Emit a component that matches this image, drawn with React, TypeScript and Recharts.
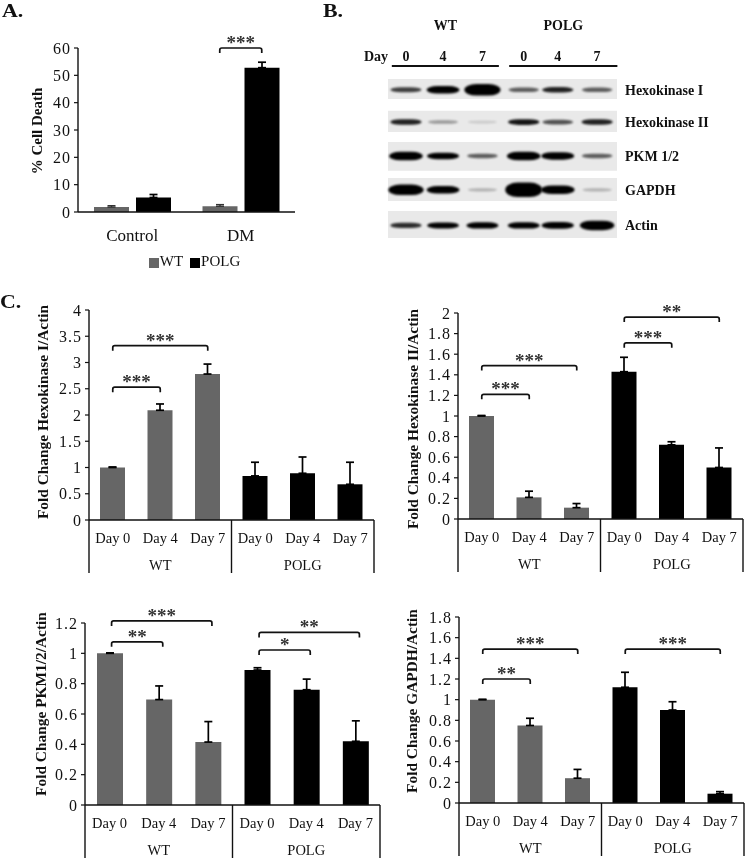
import { BarChart, Bar, Cell, XAxis, YAxis, ErrorBar, ReferenceLine, ReferenceArea, Legend, ScatterChart, Scatter } from 'recharts'

const SERIF = '"Liberation Serif", serif'
const GREY = '#666666'
const INK = '#111111'

// Panel A
const deathCategories = ['Control', 'DM']
const deathWt = [1.8, 2.1]
const deathWtErr = [0.5, 0.6]
const deathPolg = [5.3, 52.8]
const deathPolgErr = [1.1, 2.0]
const deathTicks = [0, 10, 20, 30, 40, 50, 60]

// Panel B, relative band density per lane (WT 0/4/7, POLG 0/4/7)
const blotNames = ['Hexokinase I', 'Hexokinase II', 'PKM 1/2', 'GAPDH', 'Actin']
const blotRows = [0, 0.95, 1.95, 2.95, 4]
const blotLanes = [0, 0.97, 2, 3.08, 3.97, 5]
const blotDays = ['0', '4', '7', '0', '4', '7']
const hk1Bands = [0.25, 0.5, 0.9, 0.2, 0.3, 0.2]
const hk2Bands = [0.3, 0.1, 0.02, 0.32, 0.22, 0.3]
const pkmBands = [0.6, 0.4, 0.2, 0.6, 0.5, 0.2]
const gapdhBands = [0.8, 0.5, 0.06, 1.2, 0.6, 0.06]
const actinBands = [0.28, 0.35, 0.38, 0.38, 0.42, 0.7]
const blotBands = [hk1Bands, hk2Bands, pkmBands, gapdhBands, actinBands]
const stripTops = [-0.32, 0.62, 1.54, 2.6, 3.57]
const stripBottoms = [0.27, 1.24, 2.39, 3.28, 4.37]

// Panel C
const dayLabels = ['Day 0', 'Day 4', 'Day 7', 'Day 0', 'Day 4', 'Day 7']
const hk1Values = [1, 2.09, 2.78, 0.84, 0.89, 0.68]
const hk1Errors = [0.01, 0.12, 0.19, 0.26, 0.31, 0.42]
const hk1Ticks = [0, 0.5, 1, 1.5, 2, 2.5, 3, 3.5, 4]
const hk1Brackets = [
  { from: 0, to: 1, value: 2.53, stars: '***' },
  { from: 0, to: 2, value: 3.32, stars: '***' },
]
const hk2Values = [1, 0.21, 0.11, 1.43, 0.72, 0.5]
const hk2Errors = [0.005, 0.06, 0.04, 0.14, 0.03, 0.19]
const hk2Ticks = [0, 0.2, 0.4, 0.6, 0.8, 1, 1.2, 1.4, 1.6, 1.8, 2]
const hk2Brackets = [
  { from: 0, to: 1, value: 1.21, stars: '***' },
  { from: 0, to: 2, value: 1.49, stars: '***' },
  { from: 3, to: 4, value: 1.71, stars: '***' },
  { from: 3, to: 5, value: 1.96, stars: '**' },
]
const pkmValues = [1, 0.695, 0.415, 0.89, 0.76, 0.42]
const pkmErrors = [0.003, 0.09, 0.135, 0.015, 0.07, 0.135]
const pkmTicks = [0, 0.2, 0.4, 0.6, 0.8, 1, 1.2]
const pkmBrackets = [
  { from: 0, to: 1, value: 1.076, stars: '**' },
  { from: 0, to: 2, value: 1.214, stars: '***' },
  { from: 3, to: 4, value: 1.022, stars: '*' },
  { from: 3, to: 5, value: 1.138, stars: '**' },
]
const gapdhValues = [1, 0.75, 0.24, 1.12, 0.9, 0.09]
const gapdhErrors = [0.003, 0.07, 0.085, 0.145, 0.08, 0.02]
const gapdhTicks = [0, 0.2, 0.4, 0.6, 0.8, 1, 1.2, 1.4, 1.6, 1.8]
const gapdhBrackets = [
  { from: 0, to: 1, value: 1.2, stars: '**' },
  { from: 0, to: 2, value: 1.49, stars: '***' },
  { from: 3, to: 5, value: 1.49, stars: '***' },
]

function bracketShape(stars: string, shiftA = 0, shiftB = 0) {
  return (p: any) => {
    const a = p.x1 + shiftA
    const b = p.x2 + shiftB
    const y = p.y1
    return (
      <g>
        <path
          d={`M${a} ${y + 5}L${a} ${y + 2}Q${a} ${y} ${a + 2} ${y}L${b - 2} ${y}Q${b} ${y} ${b} ${y + 2}L${b} ${y + 5}`}
          fill="none"
          stroke={INK}
          strokeWidth={1.7}
        />
        <text x={(a + b) / 2} y={y + 1} textAnchor="middle" fontSize={19} fontWeight="bold" fill="#333" fontFamily={SERIF}>
          {stars}
        </text>
      </g>
    )
  }
}

function FoldChart(props: any) {
  const { x0, x1, y0, y1, labelX, labelY, title, values, errors, ticks, brackets, barSize, shift } = props
  const xAxisH = 60
  const yAxisW = 2 * (x0 - labelX)
  const boxLeft = x0 - yAxisW
  const boxTop = y1 - 25
  const boxW = x1 - boxLeft + 1
  const boxH = y0 + xAxisH + 2 - boxTop
  const step = (x1 - x0) / 6
  const data = values.map((v: number, i: number) => ({ id: `g${i}`, value: v, err: [0, errors[i]] }))

  const renderTick = (t: any) => {
    const i = t.index
    return (
      <g>
        <text x={t.x} y={t.y + 23} textAnchor="middle" fontSize={14.5} fill={INK}>{dayLabels[i]}</text>
        {(i === 1 || i === 4) && (
          <text x={t.x} y={t.y + 50} textAnchor="middle" fontSize={14.5} fill={INK}>{i === 1 ? 'WT' : 'POLG'}</text>
        )}
        {(i === 0 || i === 3) && <line x1={t.x - step / 2} x2={t.x - step / 2} y1={t.y} y2={t.y + 53} stroke={INK} strokeWidth={1.4} />}
        {i === 5 && <line x1={t.x + step / 2} x2={t.x + step / 2} y1={t.y} y2={t.y + 53} stroke={INK} strokeWidth={1.4} />}
      </g>
    )
  }

  return (
    <div style={{ position: 'absolute', left: boxLeft, top: boxTop }}>
      <BarChart width={boxW} height={boxH} data={data} barSize={barSize} margin={{ top: 25, right: 1, left: 0, bottom: 2 }}>
        <XAxis dataKey="id" interval={0} height={xAxisH} tick={renderTick} tickLine={false} tickSize={0} tickMargin={0} axisLine={{ stroke: INK, strokeWidth: 1.4 }} />
        <YAxis
          width={yAxisW}
          domain={[ticks[0], ticks[ticks.length - 1]]}
          ticks={ticks}
          interval={0}
          tickSize={4}
          tickMargin={3}
          axisLine={{ stroke: INK, strokeWidth: 1.4 }}
          tickLine={{ stroke: INK, strokeWidth: 1.2 }}
          tick={{ fontSize: 16, fill: INK, letterSpacing: 1 }}
          label={{
            content: () => (
              <text
                transform={`translate(${labelX - boxLeft} ${labelY - boxTop}) rotate(-90)`}
                textAnchor="middle"
                dominantBaseline="middle"
                fontSize={15.4}
                fontWeight="bold"
                fill={INK}
              >
                {title}
              </text>
            ),
          }}
        />
        <Bar dataKey="value" isAnimationActive={false}>
          {data.map((d: any, i: number) => (
            <Cell key={d.id} fill={i < 3 ? GREY : '#000000'} />
          ))}
          <ErrorBar dataKey="err" direction="y" width={4} stroke="#000" strokeWidth={1.7} isAnimationActive={false} />
        </Bar>
        {brackets.map((b: any, i: number) => (
          <ReferenceLine
            key={i}
            ifOverflow="visible"
            segment={[{ x: `g${b.from}`, y: b.value }, { x: `g${b.to}`, y: b.value }]}
            shape={bracketShape(b.stars, shift ? shift[0] : 0, shift ? shift[1] : 0)}
          />
        ))}
      </BarChart>
    </div>
  )
}

function DeathChart() {
  const data = deathCategories.map((c, i) => ({
    category: c,
    WT: deathWt[i],
    wtErr: [0, deathWtErr[i]],
    POLG: deathPolg[i],
    polgErr: [0, deathPolgErr[i]],
  }))
  return (
    <div style={{ position: 'absolute', left: 0, top: 0 }}>
      <BarChart width={330} height={285} data={data} barSize={35} barGap={7} margin={{ top: 48, right: 35, left: 0, bottom: 16 }}>
        <XAxis
          dataKey="category"
          height={40}
          tickLine={false}
          tickSize={0}
          tickMargin={17}
          axisLine={{ stroke: INK, strokeWidth: 1.4 }}
          tick={{ fontSize: 17, fill: INK }}
        />
        <YAxis
          width={78}
          domain={[0, 60]}
          ticks={deathTicks}
          interval={0}
          tickSize={4}
          tickMargin={3}
          axisLine={{ stroke: INK, strokeWidth: 1.4 }}
          tickLine={{ stroke: INK, strokeWidth: 1.2 }}
          tick={{ fontSize: 16, fill: INK, letterSpacing: 1 }}
          label={{
            content: () => (
              <text transform="translate(39 131) rotate(-90)" textAnchor="middle" dominantBaseline="middle" fontSize={15} fontWeight="bold" fill={INK}>
                % Cell Death
              </text>
            ),
          }}
        />
        <Legend
          iconType="square"
          iconSize={10}
          itemSorter={null}
          wrapperStyle={{ left: 133, bottom: 'auto', top: 253, width: 130, fontSize: 15, whiteSpace: 'nowrap' }}
          formatter={(v: any) => <span style={{ color: INK, marginLeft: -3, marginRight: -3, whiteSpace: 'nowrap' }}>{v}</span>}
        />
        <Bar dataKey="WT" fill={GREY} isAnimationActive={false}>
          <ErrorBar dataKey="wtErr" direction="y" width={4} stroke="#333" strokeWidth={1.4} isAnimationActive={false} />
        </Bar>
        <Bar dataKey="POLG" fill="#000000" isAnimationActive={false}>
          <ErrorBar dataKey="polgErr" direction="y" width={4} stroke="#000" strokeWidth={1.7} isAnimationActive={false} />
        </Bar>
        <ReferenceLine
          ifOverflow="visible"
          segment={[{ x: 'DM', y: 60 }, { x: 'DM', y: 60 }]}
          shape={bracketShape('***', -21, 21)}
        />
      </BarChart>
    </div>
  )
}

function BandShape(p: any) {
  const d = p.payload.density
  const w = 29 + 8 * Math.min(d, 1)
  const h = 2.5 + 10 * d
  const o = Math.min(1, 0.08 + 2.6 * d)
  return (
    <rect
      x={p.cx - w / 2}
      y={p.cy - h / 2}
      width={w}
      height={h}
      rx={w / 3}
      ry={h / 2}
      fill="#000"
      opacity={o}
      style={{ filter: 'blur(1px)' }}
    />
  )
}

function BlotPanel() {
  const data = blotBands.flatMap((bands, r) =>
    bands.map((density, l) => ({ lane: blotLanes[l], row: blotRows[r], density })),
  )
  const renderDay = (t: any) => (
    <g>
      <text x={t.x} y={t.y} textAnchor="middle" fontSize={14} fontWeight="bold" fill={INK}>{blotDays[t.index]}</text>
      {t.index === 0 && <text x={t.x - 30} y={t.y} textAnchor="middle" fontSize={14} fontWeight="bold" fill={INK}>Day</text>}
    </g>
  )
  return (
    <div style={{ position: 'absolute', left: 320, top: 0 }}>
      <ScatterChart width={425} height={250} margin={{ top: 19, right: 0, left: 68, bottom: 12 }}>
        <XAxis
          xAxisId="lane"
          type="number"
          dataKey="lane"
          orientation="top"
          height={60}
          domain={[-0.47, 5.52]}
          ticks={blotLanes}
          interval={0}
          axisLine={false}
          tickLine={false}
          tickSize={0}
          tick={(t: any) => renderDay({ ...t, y: 61 })}
        />
        <YAxis
          yAxisId="row"
          type="number"
          dataKey="row"
          orientation="right"
          width={128}
          reversed
          domain={[-0.32, 4.37]}
          ticks={blotRows}
          interval={0}
          axisLine={false}
          tickLine={false}
          tickSize={0}
          tickMargin={8}
          tickFormatter={(v: number) => blotNames[blotRows.indexOf(v)]}
          tick={{ fontSize: 14, fontWeight: 'bold', fill: INK, textAnchor: 'start' }}
        />
        {stripTops.map((top, i) => (
          <ReferenceArea key={i} xAxisId="lane" yAxisId="row" y1={top} y2={stripBottoms[i]} fill="#e9e9e9" fillOpacity={1} stroke="none" />
        ))}
        <ReferenceLine
          xAxisId="lane"
          yAxisId="row"
          ifOverflow="visible"
          segment={[{ x: -0.37, y: -0.7 }, { x: 2.43, y: -0.7 }]}
          stroke={INK}
          strokeWidth={2}
          label={{ value: 'WT', position: 'top', offset: 36, fontSize: 14, fontWeight: 'bold', fill: INK }}
        />
        <ReferenceLine
          xAxisId="lane"
          yAxisId="row"
          ifOverflow="visible"
          segment={[{ x: 2.7, y: -0.7 }, { x: 5.53, y: -0.7 }]}
          stroke={INK}
          strokeWidth={2}
          label={{ value: 'POLG', position: 'top', offset: 36, fontSize: 14, fontWeight: 'bold', fill: INK }}
        />
        <Scatter xAxisId="lane" yAxisId="row" data={data} shape={BandShape} isAnimationActive={false} />
      </ScatterChart>
    </div>
  )
}

function PanelLetter({ x, y, text }: { x: number; y: number; text: string }) {
  return (
    <div style={{ position: 'absolute', left: x, top: y, fontSize: 19, fontWeight: 'bold', color: INK, transform: 'scaleX(1.15)', transformOrigin: 'left top' }}>
      {text}
    </div>
  )
}

export default function App() {
  return (
    <div style={{ position: 'absolute', left: 0, top: 0, width: 745, height: 859, background: '#fff', overflow: 'hidden', fontFamily: SERIF, filter: 'blur(0.35px)' }}>
      <PanelLetter x={2} y={0} text="A." />
      <PanelLetter x={323} y={0} text="B." />
      <PanelLetter x={0} y={291} text="C." />
      <DeathChart />
      <BlotPanel />
      <FoldChart x0={89} x1={374} y0={520} y1={310} labelX={44} labelY={412} title="Fold Change Hexokinase I/Actin"
        values={hk1Values} errors={hk1Errors} ticks={hk1Ticks} brackets={hk1Brackets} barSize={25} />
      <FoldChart x0={458} x1={743} y0={519} y1={313} labelX={414} labelY={419} title="Fold Change Hexokinase II/Actin"
        values={hk2Values} errors={hk2Errors} ticks={hk2Ticks} brackets={hk2Brackets} barSize={25} />
      <FoldChart x0={85} x1={380} y0={805} y1={623} labelX={42} labelY={704} title="Fold Change PKM1/2/Actin"
        values={pkmValues} errors={pkmErrors} ticks={pkmTicks} brackets={pkmBrackets} barSize={26} shift={[2, 4]} />
      <FoldChart x0={459} x1={744} y0={803} y1={617} labelX={413} labelY={701} title="Fold Change GAPDH/Actin"
        values={gapdhValues} errors={gapdhErrors} ticks={gapdhTicks} brackets={gapdhBrackets} barSize={25} />
    </div>
  )
}
